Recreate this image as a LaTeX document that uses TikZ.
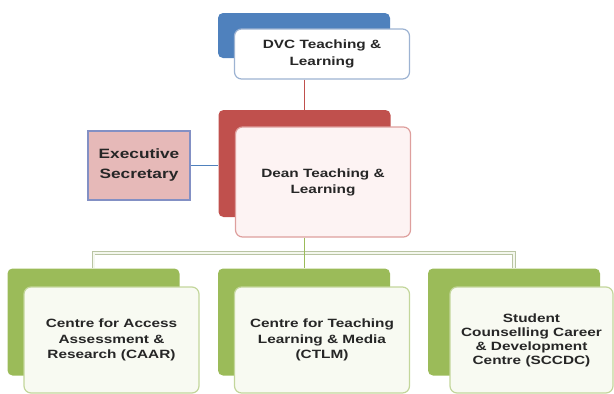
\documentclass[tikz,border=0pt]{standalone}
\usepackage{fontspec}
\newfontfamily\chartfont[FakeStretch=1.28]{Liberation Sans}
\definecolor{dvcblue}{HTML}{4F81BD}
\definecolor{dvcedge}{HTML}{9DB3D2}
\definecolor{deanred}{HTML}{C0504D}
\definecolor{deanedge}{HTML}{DE9F9D}
\definecolor{deanfill}{HTML}{FDF3F3}
\definecolor{unitgreen}{HTML}{9BBB59}
\definecolor{unitedge}{HTML}{C3D69B}
\definecolor{unitfill}{HTML}{F8FAF2}
\definecolor{secfill}{HTML}{E6B9B8}
\definecolor{secedge}{HTML}{8390C4}
\definecolor{busedge}{HTML}{B9C4A3}
\definecolor{busfill}{HTML}{F4F7EE}
\definecolor{txtgray}{HTML}{262626}

\begin{document}
\begin{tikzpicture}[
    x=1pt, y=-1pt,
    back/.style={rounded corners=5pt, inner sep=0pt,
                 minimum width=172pt, minimum height=107pt},
    front/.style={draw, rounded corners=7pt, line width=1.2pt, inner sep=2pt,
                  align=center, text=txtgray,
                  font=\chartfont\bfseries\fontsize{12}{15.5}\selectfont,
                  minimum width=175pt, minimum height=106pt},
    unitfront/.style={front, draw=unitedge, fill=unitfill},
    bus/.style={draw=busedge, line width=0.8pt, double=busfill, double distance=2pt}
]
\useasboundingbox (0,0) rectangle (614,394);

% ---------- DVC ----------
\node[back, fill=dvcblue, minimum height=45pt] (dvcback) at (304,35.5) {};
\node[front, draw=dvcedge, fill=white, minimum height=50pt,
      font=\chartfont\bfseries\fontsize{12}{16.5}\selectfont]
      (dvc) at ([shift={(18,18.5)}]dvcback.center) {DVC Teaching \&\\Learning};

% ---------- Dean and secretary ----------
\node[back, fill=deanred] (deanback) at (304.5,163.5) {};
\node[front, draw=deanedge, fill=deanfill, minimum height=110pt,
      font=\chartfont\bfseries\fontsize{12}{16}\selectfont]
      (dean) at ([shift={(18.5,18.5)}]deanback.center) {Dean Teaching \&\\Learning};
\node[draw=secedge, fill=secfill, line width=1.5pt, inner sep=0pt,
      minimum width=102pt, minimum height=69pt, align=center, text=txtgray,
      font=\chartfont\bfseries\fontsize{13.5}{20}\selectfont]
      (exec) at (139,165.5) {Executive\\Secretary};

% ---------- centres ----------
\foreach \n/\cx in {caarback/93.5, ctlmback/304, sccdcback/514}
  \node[back, fill=unitgreen] (\n) at (\cx,322) {};
\node[unitfront] (caar) at ([shift={(18,18)}]caarback.center)
      {Centre for Access\\Assessment \&\\Research (CAAR)};
\node[unitfront] (ctlm) at ([shift={(18,18)}]ctlmback.center)
      {Centre for Teaching\\Learning \& Media\\(CTLM)};
\node[unitfront, minimum width=163pt,
      font=\chartfont\bfseries\fontsize{12}{14}\selectfont]
      (sccdc) at ([shift={(17.5,18)}]sccdcback.center)
      {Student\\Counselling Career\\\& Development\\Centre (SCCDC)};

% ---------- connectors ----------
\coordinate (bus) at (304,253);
\draw[deanred, line width=1pt] (deanback.north |- dvc.south) -- (deanback.north);
\draw[dvcblue, line width=1.2pt] (exec.east) -- (exec.east -| deanback.west);
\draw[bus] (caarback.north) -- (bus -| caarback.north)
        -- (bus -| sccdcback.north) -- (sccdcback.north);
\draw[unitgreen, line width=1pt] (dean.south -| ctlmback.north) -- (ctlmback.north);

\end{tikzpicture}
\end{document}
